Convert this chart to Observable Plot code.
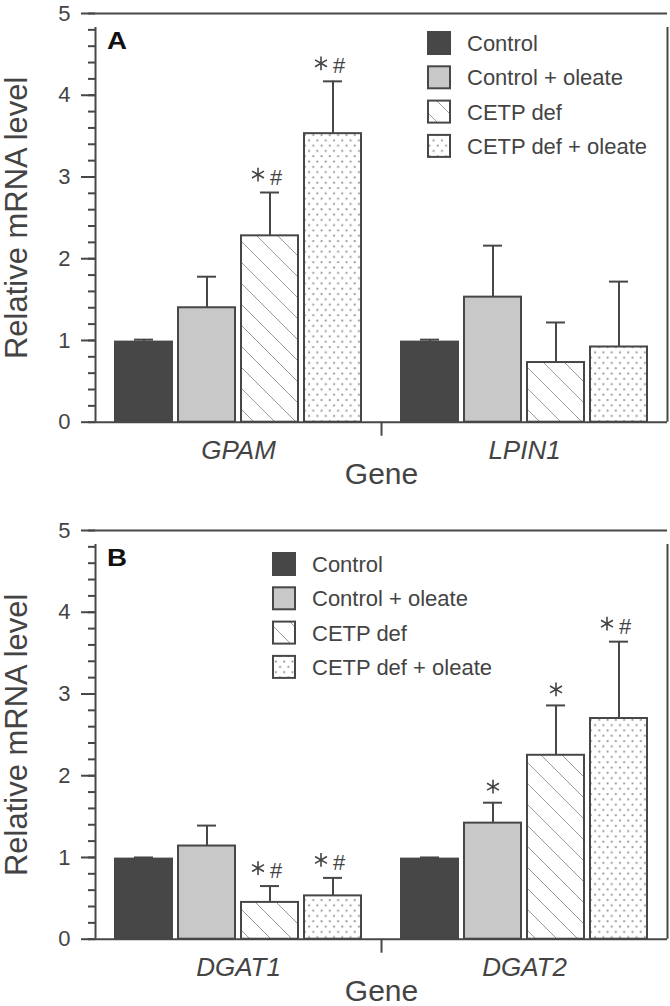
<!DOCTYPE html>
<html>
<head>
<meta charset="utf-8">
<script src="https://cdn.jsdelivr.net/npm/d3@7"></script>
<script src="https://cdn.jsdelivr.net/npm/@observablehq/plot@0.6"></script>
<style>
  body { margin: 0; background: #fff; }
  .panel { position: relative; width: 670px; }
  .panel svg.overlay { position: absolute; left: 0; top: 0; pointer-events: none; }
  [aria-label="fx-axis tick label"] text { font-style: italic; }
</style>
</head>
<body>
<svg width="0" height="0" style="position:absolute">
  <defs>
    <pattern id="hatch" patternUnits="userSpaceOnUse" width="21" height="21">
      <path d="M0,0L21,21M-6,15L6,27M15,-6L27,6" stroke="#9a9a9a" stroke-width="1" fill="none"/>
    </pattern>
    <pattern id="dots" patternUnits="userSpaceOnUse" width="8.3" height="10.6">
      <rect width="8.3" height="10.6" fill="#fff"/>
      <circle cx="2" cy="2.6" r="1.1" fill="#999"/>
      <circle cx="6.15" cy="7.9" r="1.1" fill="#999"/>
    </pattern>
  </defs>
</svg>
<div id="panelA" class="panel"></div>
<div id="panelB" class="panel"></div>
<script>
// ---------- data ----------
const groups = ["Control", "Control + oleate", "CETP def", "CETP def + oleate"];

const genesA = ["GPAM", "LPIN1"];
const meanGPAM = [0.98, 1.40, 2.28, 3.53];
const errGPAM  = [0.03, 0.38, 0.53, 0.64];
const sigGPAM  = ["", "", "*#", "*#"];
const meanLPIN1 = [0.98, 1.53, 0.73, 0.92];
const errLPIN1  = [0.03, 0.63, 0.49, 0.80];
const sigLPIN1  = ["", "", "", ""];

const genesB = ["DGAT1", "DGAT2"];
const meanDGAT1 = [0.98, 1.14, 0.45, 0.53];
const errDGAT1  = [0.02, 0.25, 0.20, 0.22];
const sigDGAT1  = ["", "", "*#", "*#"];
const meanDGAT2 = [0.98, 1.42, 2.25, 2.70];
const errDGAT2  = [0.02, 0.25, 0.61, 0.94];
const sigDGAT2  = ["", "*", "*", "*#"];

const yMajor = [0, 1, 2, 3, 4, 5];
const yMinor = d3.range(0, 5.0001, 0.2);
const yLabel = "Relative mRNA level";
const xLabel = "Gene";

// ---------- style ----------
const font = '"Liberation Sans", Arial, Helvetica, sans-serif';
const ink = "#474747";
const fills = {
  "Control": "#474747",
  "Control + oleate": "#c8c8c8",
  "CETP def": "url(#hatch)",
  "CETP def + oleate": "url(#dots)"
};

const W = 670, ML = 95, MR = 3, plotH = 408.7;
const padIn = 0.095, padOut = 0.317;
const facetW = (W - ML - MR) / 2;
const step = facetW / (groups.length - padIn + 2 * padOut);
const edgeOffset = padOut * step + (1 - padIn) * step / 2;

function rowsFor(genes, means, errs, sigs) {
  return genes.flatMap((g, i) => groups.map((grp, j) => ({
    gene: g, group: grp, mean: means[i][j], hi: means[i][j] + errs[i][j], sig: sigs[i][j]
  })));
}

function makePanel(el, letter, genes, rows, height, marginTop, legendX, legendY0) {
  const edges = [
    {gene: genes[0], top: 5, side: "left"},
    {gene: genes[1], top: 0, side: "left"},
    {gene: genes[1], top: 5, side: "right"}
  ];
  const starOnly = rows.filter(d => d.sig === "*");
  const starPair = rows.filter(d => d.sig === "*#");
  const hash = rows.filter(d => d.sig.includes("#"));
  const chart = Plot.plot({
    width: W, height,
    marginLeft: ML, marginRight: MR, marginTop, marginBottom: height - marginTop - plotH,
    style: {fontFamily: font, color: "#444", background: "#fff", overflow: "visible"},
    fx: {domain: genes, padding: 0, axis: null},
    x: {domain: groups, paddingInner: padIn, paddingOuter: padOut, axis: null},
    y: {domain: [0, 5], axis: null},
    color: {type: "identity"},
    marks: [
      Plot.barY(rows, {fx: "gene", x: "group", y: "mean", fill: d => fills[d.group], stroke: ink, strokeWidth: 2}),
      Plot.ruleX(rows, {fx: "gene", x: "group", y1: "mean", y2: "hi", stroke: ink, strokeWidth: 2}),
      Plot.tickY(rows, {fx: "gene", x: "group", y: "hi", stroke: ink, strokeWidth: 2, insetLeft: 19, insetRight: 19}),
      // significance markers
      Plot.dot(starOnly, {fx: "gene", x: "group", y: "hi", symbol: "asterisk", r: 6.5, dy: -16, stroke: "#444", strokeWidth: 1.6}),
      Plot.dot(starPair, {fx: "gene", x: "group", y: "hi", symbol: "asterisk", r: 6.5, dx: -12, dy: -18, stroke: "#444", strokeWidth: 1.6}),
      Plot.text(hash, {fx: "gene", x: "group", y: "hi", text: () => "#", dx: 6, dy: -8, lineAnchor: "bottom", fontSize: 22, fill: "#444"}),
      // frame
      Plot.ruleY([0, 5], {stroke: ink, strokeWidth: 2}),
      Plot.ruleX(edges.filter(d => d.side === "left"), {fx: "gene", x: () => groups[0], y1: 0, y2: "top", dx: -edgeOffset, insetBottom: -14, stroke: ink, strokeWidth: 2}),
      Plot.ruleX(edges.filter(d => d.side === "right"), {fx: "gene", x: () => groups[groups.length - 1], y1: 0, y2: "top", dx: edgeOffset, insetBottom: -14, stroke: ink, strokeWidth: 2}),
      // axes
      Plot.axisY({ticks: yMinor, tickSize: 7, tickFormat: () => "", label: null, stroke: ink, strokeWidth: 2}),
      Plot.axisY({ticks: yMajor, tickSize: 14, tickPadding: 11, tickFormat: d3.format("d"), fontSize: 22, label: null, stroke: ink, strokeWidth: 2}),
      Plot.axisFx({anchor: "bottom", tickSize: 0, tickPadding: 18, fontSize: 26, fontStyle: "italic", label: null}),
      Plot.text([xLabel], {frameAnchor: "bottom", facet: "super", dy: 40, lineAnchor: "top", fontSize: 30, fill: "#444"}),
      Plot.text([yLabel], {frameAnchor: "left", facet: "super", rotate: -90, dx: -91, lineAnchor: "top", textAnchor: "middle", fontSize: 31, fill: "#444"})
    ]
  });
  el.appendChild(chart);

  // panel letter + legend overlay
  const ns = "http://www.w3.org/2000/svg";
  const ov = document.createElementNS(ns, "svg");
  ov.setAttribute("class", "overlay");
  ov.setAttribute("width", W);
  ov.setAttribute("height", height);
  ov.style.fontFamily = font;
  const t = document.createElementNS(ns, "text");
  t.setAttribute("x", 107); t.setAttribute("y", marginTop + 36);
  t.setAttribute("font-size", 23); t.setAttribute("font-weight", "bold"); t.setAttribute("fill", "#111");
  t.setAttribute("textLength", 20); t.setAttribute("lengthAdjust", "spacingAndGlyphs");
  t.textContent = letter;
  ov.appendChild(t);
  groups.forEach((g, i) => {
    const cy = legendY0 + i * 34.3;
    const r = document.createElementNS(ns, "rect");
    r.setAttribute("x", legendX + 1); r.setAttribute("y", cy - 11);
    r.setAttribute("width", 22); r.setAttribute("height", 22);
    r.setAttribute("fill", fills[g]); r.setAttribute("stroke", ink); r.setAttribute("stroke-width", 2);
    ov.appendChild(r);
    const lt = document.createElementNS(ns, "text");
    lt.setAttribute("x", legendX + 40); lt.setAttribute("y", cy + 8);
    lt.setAttribute("font-size", 22); lt.setAttribute("fill", "#444");
    lt.textContent = g;
    ov.appendChild(lt);
  });
  el.appendChild(ov);
}

const rowsA = rowsFor(genesA, [meanGPAM, meanLPIN1], [errGPAM, errLPIN1], [sigGPAM, sigLPIN1]);
const rowsB = rowsFor(genesB, [meanDGAT1, meanDGAT2], [errDGAT1, errDGAT2], [sigDGAT1, sigDGAT2]);

makePanel(document.getElementById("panelA"), "A", genesA, rowsA, 500, 13, 427, 43);
makePanel(document.getElementById("panelB"), "B", genesB, rowsB, 506, 30, 272, 64);
</script>
</body>
</html>
